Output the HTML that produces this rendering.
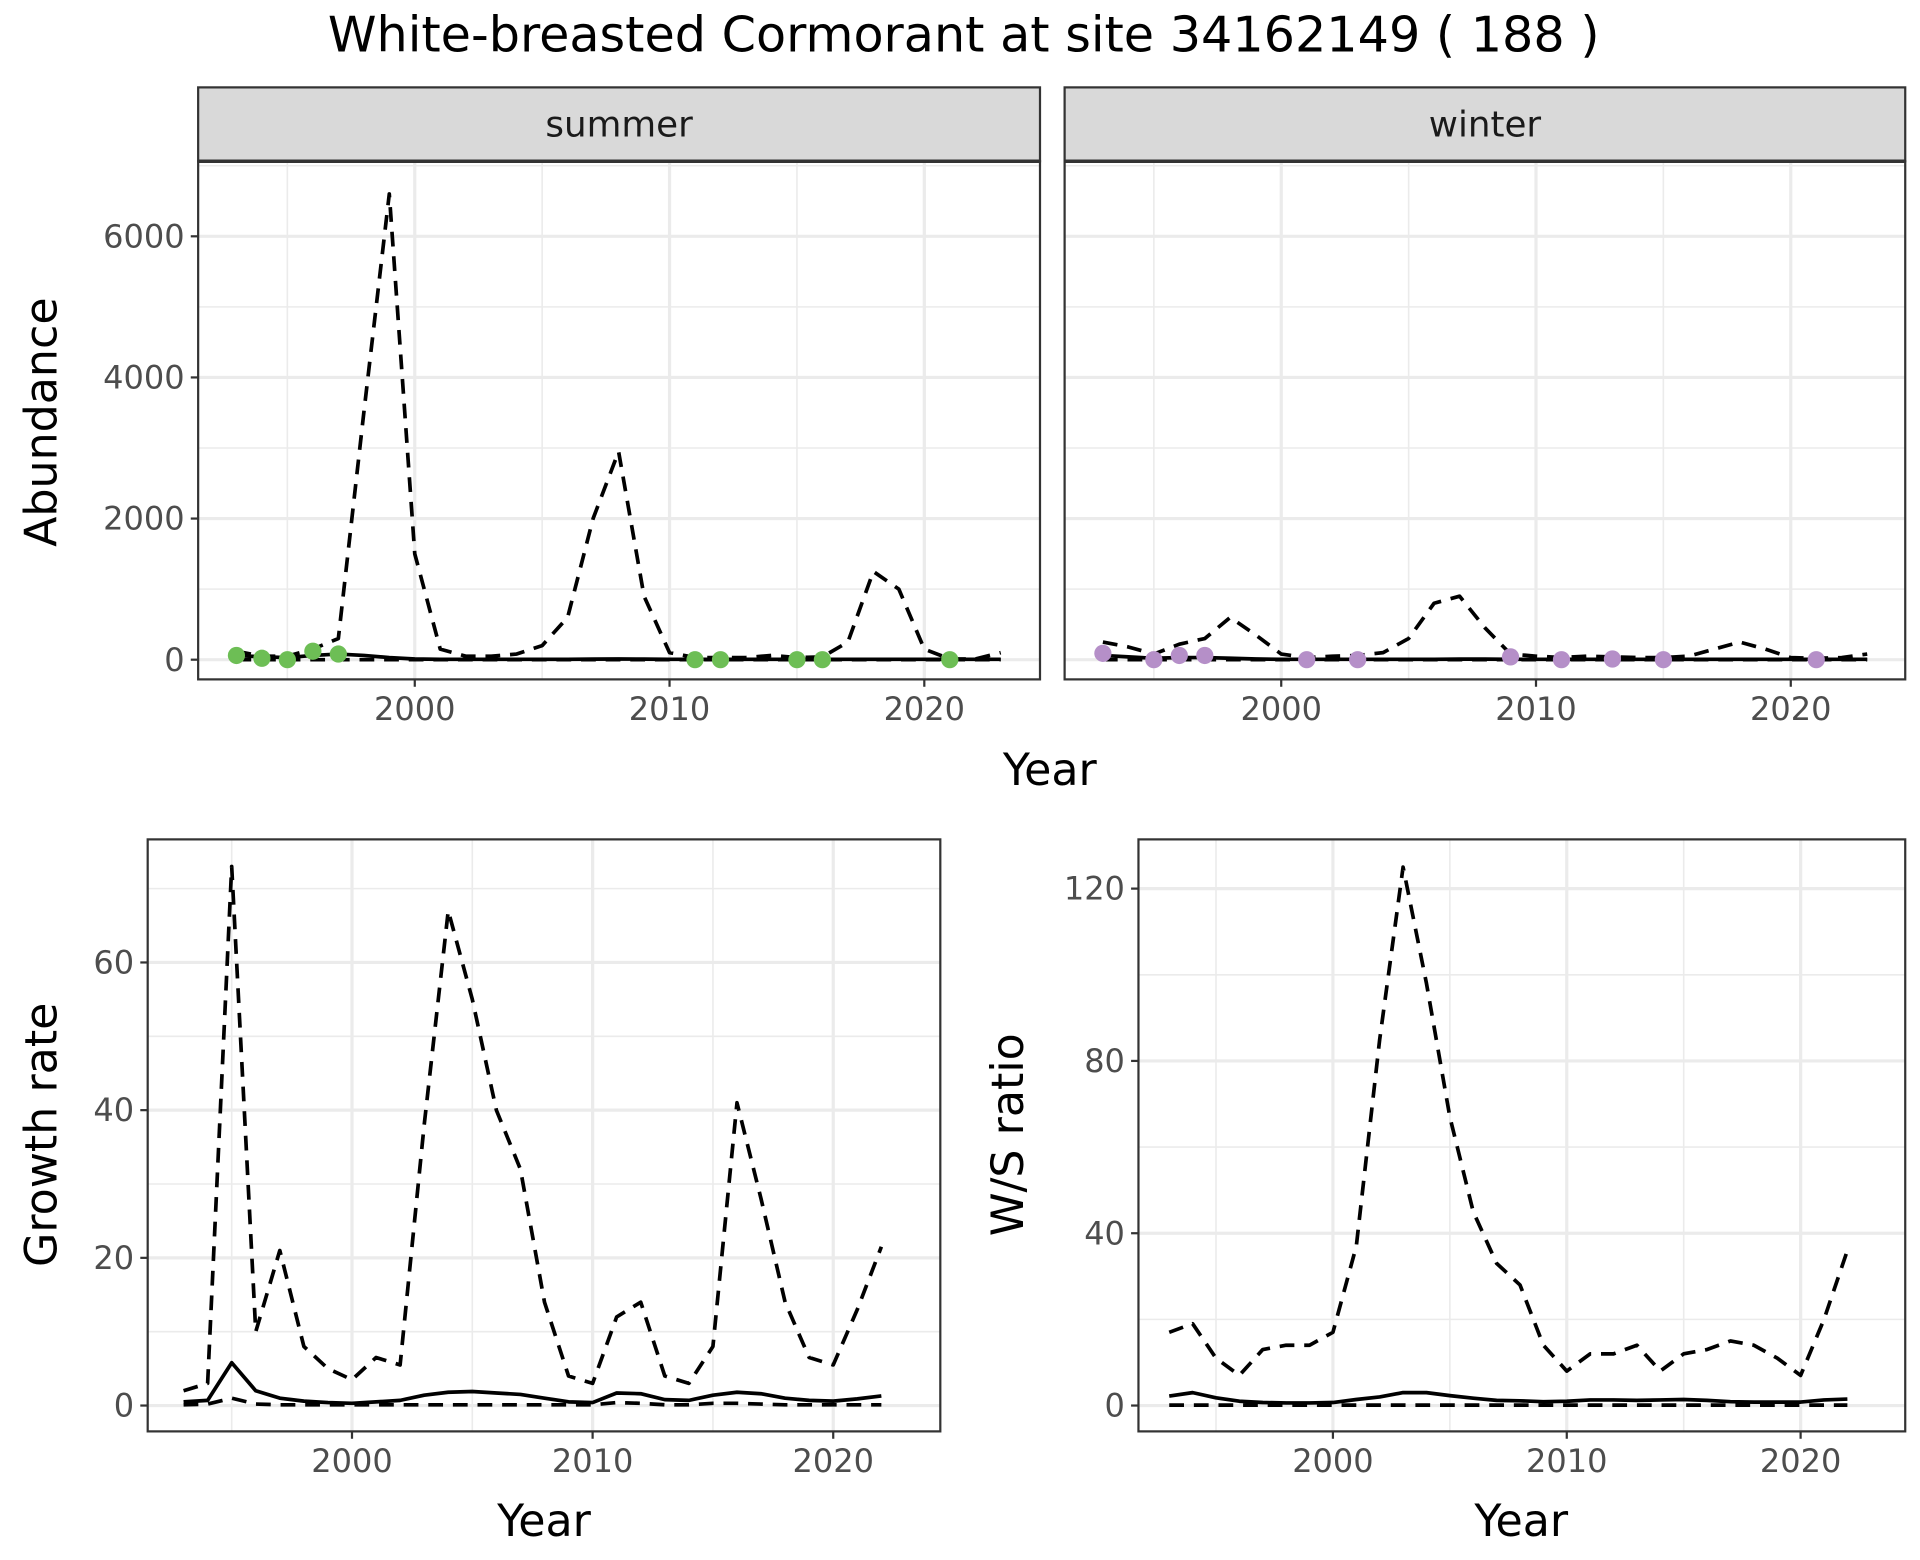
<!DOCTYPE html>
<html><head><meta charset="utf-8"><style>
html,body{margin:0;padding:0;background:#fff;}
svg{display:block;font-family:"DejaVu Sans","Liberation Sans",sans-serif;}
</style></head><body>
<svg id="c" width="1920" height="1560" viewBox="0 0 1560 1267.5" xmlns="http://www.w3.org/2000/svg">
<text x="783" y="42" font-size="40" text-anchor="middle" fill="#000">White-breasted Cormorant at site 34162149 ( 188 )</text>
</svg>
<script>
const yearsA = [1993,1994,1995,1996,1997,1998,1999,2000,2001,2002,2003,2004,2005,2006,2007,2008,2009,2010,2011,2012,2013,2014,2015,2016,2017,2018,2019,2020,2021,2022,2023];
const summerUpper = [120,50,50,150,300,3500,6600,1500,150,50,50,80,200,600,2000,2950,900,100,30,30,30,60,30,40,250,1250,1000,150,10,10,100];
const summerMid = [60,40,30,60,80,60,30,10,5,5,5,5,5,5,8,10,8,5,5,5,5,5,5,5,5,5,5,5,5,5,5];
const summerLower = [0,0,0,0,0,0,0,0,0,0,0,0,0,0,0,0,0,0,0,0,0,0,0,0,0,0,0,0,0,0,0];
const summerObsYears = [1993,1994,1995,1996,1997,2011,2012,2015,2016,2021];
const summerObs = [60,20,0,120,80,0,0,0,0,0];
const winterUpper = [250,180,80,220,300,600,350,80,30,50,60,100,300,800,900,450,80,50,30,50,40,30,30,50,150,250,150,30,20,30,80];
const winterMid = [60,40,20,30,30,20,10,5,5,5,5,5,5,5,8,8,5,5,5,5,5,5,5,5,5,5,5,5,5,5,5];
const winterLower = [0,0,0,0,0,0,0,0,0,0,0,0,0,0,0,0,0,0,0,0,0,0,0,0,0,0,0,0,0,0,0];
const winterObsYears = [1993,1995,1996,1997,2001,2003,2009,2011,2013,2015,2021];
const winterObs = [90,0,60,60,0,0,40,0,10,0,0];
const yearsB = [1993,1994,1995,1996,1997,1998,1999,2000,2001,2002,2003,2004,2005,2006,2007,2008,2009,2010,2011,2012,2013,2014,2015,2016,2017,2018,2019,2020,2021,2022];
const growthUpper = [2,3,73,10,21,8,5,3.5,6.5,5.5,38,67,55,40,32,14,4,3,12,14,4,3,8,41,28,14,6.5,5.5,13,21.5];
const growthMid = [0.5,0.7,5.8,2,1,0.6,0.4,0.3,0.5,0.7,1.4,1.8,1.9,1.7,1.5,1,0.5,0.4,1.7,1.6,0.8,0.7,1.4,1.8,1.6,1,0.7,0.6,0.9,1.3];
const growthLower = [0.1,0.2,1.0,0.2,0.1,0.1,0.1,0.1,0.1,0.1,0.1,0.1,0.1,0.1,0.1,0.1,0.1,0.1,0.4,0.3,0.1,0.1,0.3,0.3,0.2,0.1,0.1,0.1,0.1,0.1];
const wsUpper = [17,19,11,7,13,14,14,17,37,85,125,98,67,45,33,28,14,8,12,12,14,8,12,13,15,14,11,7,20,36];
const wsMid = [2.2,3,1.8,1,0.7,0.6,0.6,0.7,1.4,2,3,3,2.3,1.7,1.2,1.1,0.9,1,1.3,1.3,1.2,1.3,1.4,1.2,0.9,0.8,0.8,0.8,1.3,1.5];
const wsLower = [0.1,0.1,0.1,0.1,0.1,0.1,0.1,0.1,0.1,0.1,0.1,0.1,0.1,0.1,0.1,0.1,0.1,0.1,0.1,0.1,0.1,0.1,0.1,0.1,0.1,0.1,0.1,0.1,0.1,0.1];
const abTicks = [0,2000,4000,6000];
const growthTicks = [0,20,40,60];
const wsTicks = [0,40,80,120];
const yearTicks = [2000,2010,2020];

const NS='http://www.w3.org/2000/svg';
const svg=document.getElementById('c');
function mk(tag,attrs,parent){const e=document.createElementNS(NS,tag);for(const k in attrs)e.setAttribute(k,attrs[k]);(parent||svg).appendChild(e);return e;}
function lin(d0,d1,r0,r1){return v=>r0+(v-d0)*(r1-r0)/(d1-d0);}

function panel(o){
  const g=mk('g',{});
  
  
  const {L,R,T,B}=o;
  mk('rect',{x:L,y:T,width:R-L,height:B-T,fill:'#fff'},g);
  const xs=o.xs, ys=o.ys;
  for(let i=0;i<o.yTicks.length;i++){const m=o.yTicks[i]+(o.yTicks[1]-o.yTicks[0])/2;const yy=ys(m);if(yy>T&&yy<B)mk('line',{x1:L,x2:R,y1:yy,y2:yy,stroke:'#ebebeb','stroke-width':1.3},g);}
  for(const yv of [1995,2005,2015])mk('line',{x1:xs(yv),x2:xs(yv),y1:T,y2:B,stroke:'#ebebeb','stroke-width':1.3},g);
  for(const t of o.yTicks)mk('line',{x1:L,x2:R,y1:ys(t),y2:ys(t),stroke:'#ebebeb','stroke-width':2.6},g);
  for(const t of yearTicks)mk('line',{x1:xs(t),x2:xs(t),y1:T,y2:B,stroke:'#ebebeb','stroke-width':2.6},g);
  function line(xsArr,vals,dash,nm){
    const pts=xsArr.map((x,i)=>xs(x).toFixed(2)+','+ys(vals[i]).toFixed(2)).join(' ');
    const p=mk('polyline',{points:pts,fill:'none',stroke:'#000','stroke-width':3,'stroke-linejoin':'round'},g);
    if(dash)p.setAttribute('stroke-dasharray','12 8');
    
    
  }
  line(o.years,o.upper,true,'upper-bound-line');
  line(o.years,o.lower,true,'lower-bound-line');
  line(o.years,o.mid,false,'estimate-line');
  if(o.obsYears){
    o.obsYears.forEach((yr,i)=>{
      const c=mk('circle',{cx:xs(yr),cy:ys(o.obs[i]),r:7,fill:o.color},g);
      
      
    });
  }
  mk('rect',{x:L,y:T,width:R-L,height:B-T,fill:'none',stroke:'#333','stroke-width':1.8},g);
  for(const t of yearTicks){
    mk('line',{x1:xs(t),x2:xs(t),y1:B,y2:B+6,stroke:'#333','stroke-width':1.8},g);
    const tx=mk('text',{x:xs(t),y:B+33,'font-size':26,'text-anchor':'middle',fill:'#4d4d4d'},g);
    tx.textContent=t;
    
    
  }
  if(o.showY){
    for(const t of o.yTicks){
      mk('line',{x1:L-6,x2:L,y1:ys(t),y2:ys(t),stroke:'#333','stroke-width':1.8},g);
      const tx=mk('text',{x:L-11,y:ys(t)+9,'font-size':26,'text-anchor':'end',fill:'#4d4d4d'},g);
      tx.textContent=t;
      
      
    }
  }
  if(o.strip){
    mk('rect',{x:L,y:T-60,width:R-L,height:60,fill:'#d9d9d9',stroke:'#333','stroke-width':1.8},g);
    mk('line',{x1:L,x2:R,y1:T,y2:T,stroke:'#333','stroke-width':2.8},g);
    const st=mk('text',{x:(L+R)/2,y:T-20,'font-size':29,'text-anchor':'middle',fill:'#1a1a1a'},g);
    st.textContent=o.strip;
    
    
  }
}

panel({name:'summer-panel',L:161,R:845,T:131,B:552,xs:lin(2000,2020,337,751),ys:lin(0,6000,536,192),yTicks:abTicks,showY:true,strip:'summer',years:yearsA,upper:summerUpper,mid:summerMid,lower:summerLower,obsYears:summerObsYears,obs:summerObs,color:'#6dbe55'});
panel({name:'winter-panel',L:865,R:1548,T:131,B:552,xs:lin(2000,2020,1041,1455),ys:lin(0,6000,536,192),yTicks:abTicks,showY:false,strip:'winter',years:yearsA,upper:winterUpper,mid:winterMid,lower:winterLower,obsYears:winterObsYears,obs:winterObs,color:'#b58fc8'});
panel({name:'growth-panel',L:120,R:764,T:682,B:1163,xs:lin(2000,2020,286,677),ys:lin(0,60,1142,782),yTicks:growthTicks,showY:true,years:yearsB,upper:growthUpper,mid:growthMid,lower:growthLower});
panel({name:'ws-ratio-panel',L:925,R:1548,T:682,B:1163,xs:lin(2000,2020,1083,1463),ys:lin(0,120,1142,722),yTicks:wsTicks,showY:true,years:yearsB,upper:wsUpper,mid:wsMid,lower:wsLower});

function label(txt,x,y,rot,nm){
  const t=mk('text',{x:x,y:y,'font-size':36,'text-anchor':'middle',fill:'#000'});
  if(rot)t.setAttribute('transform','rotate(-90 '+x+' '+y+')');
  t.textContent=txt;
  
  
}
label('Year',853,638,false,'x-axis-title-top');
label('Abundance',46,343,true,'y-axis-title-abundance');
label('Year',442,1248,false,'x-axis-title-growth');
label('Growth rate',46,922,true,'y-axis-title-growth');
label('Year',1236,1248,false,'x-axis-title-ws');
label('W/S ratio',831,922,true,'y-axis-title-ws');
</script>
</body></html>
